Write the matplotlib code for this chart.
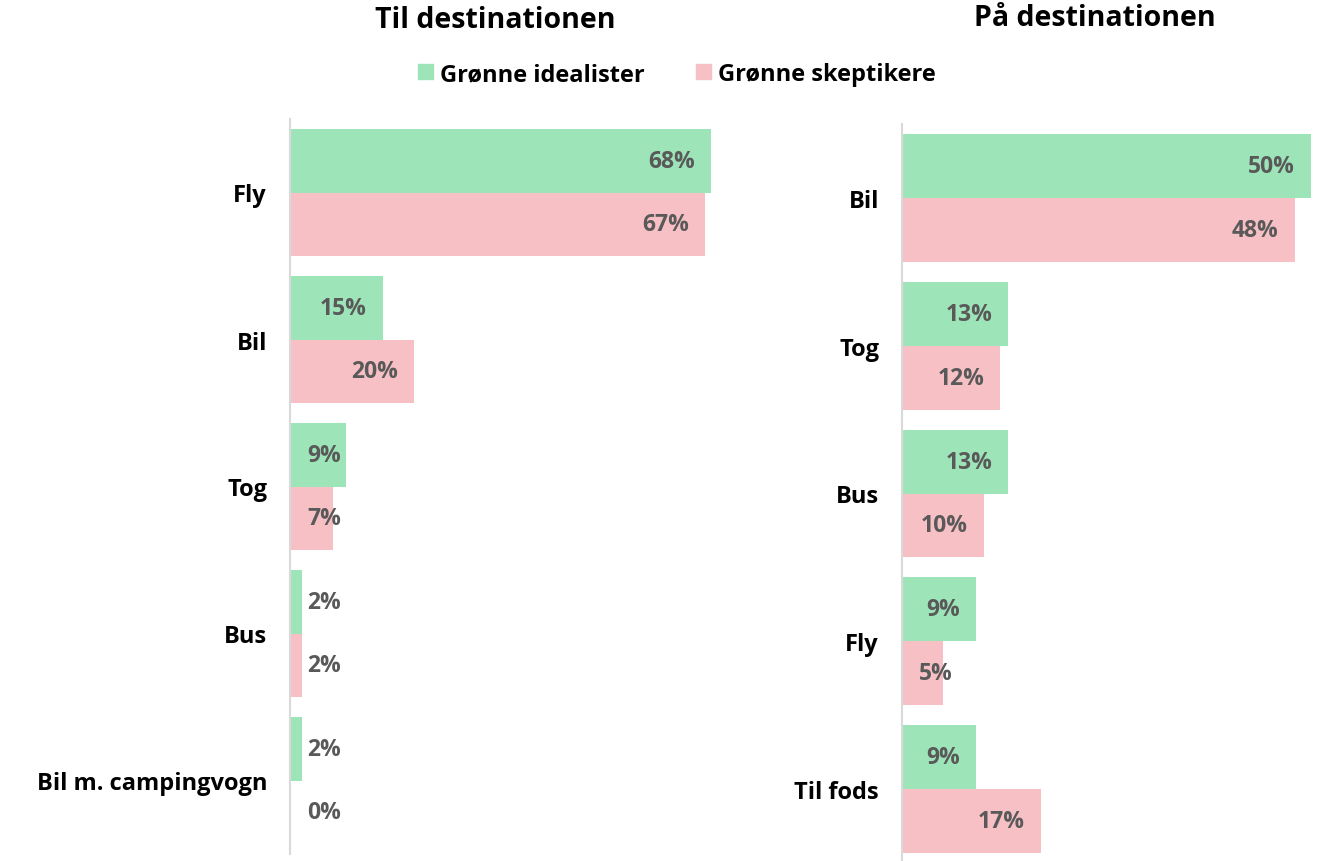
import matplotlib.pyplot as plt

plt.rcParams['font.family'] = ['Open Sans', 'DejaVu Sans']

green = '#9de5b9'
pink = '#f7c0c5'
label_col = '#595959'

til_cats = ['Fly', 'Bil', 'Tog', 'Bus', 'Bil m. campingvogn']
til_ideal = [68, 15, 9, 2, 2]
til_skep = [67, 20, 7, 2, 0]

paa_cats = ['Bil', 'Tog', 'Bus', 'Fly', 'Til fods']
paa_ideal = [50, 13, 13, 9, 9]
paa_skep = [48, 12, 10, 5, 17]

W, H = 1317, 862
fig = plt.figure(figsize=(W / 100, H / 100), dpi=100)


def add_ax(left, top, right, bottom):
    return fig.add_axes([left / W, 1 - bottom / H, (right - left) / W, (bottom - top) / H])


def draw(ax, cats, ideal, skep, xmax):
    h = 0.432
    ys = list(range(len(cats)))
    ax.barh([y - h / 2 for y in ys], ideal, height=h, color=green)
    ax.barh([y + h / 2 for y in ys], skep, height=h, color=pink)
    ax.set_xlim(0, xmax)
    ax.set_ylim(len(cats) - 0.5, -0.5)
    ax.set_yticks(ys)
    ax.set_yticklabels(cats, fontsize=17, fontweight='bold', color='black')
    ax.tick_params(axis='y', length=0, pad=16.5)
    ax.set_xticks([])
    for s in ['top', 'right', 'bottom']:
        ax.spines[s].set_visible(False)
    ax.spines['left'].set_color('#d9d9d9')
    ax.spines['left'].set_linewidth(1.5)
    # label never closer than ~67px to the axis (right edge at >= 51 px)
    fig.canvas.draw()
    px = ax.transData.transform([(0, 0), (1, 0)])
    per = px[1][0] - px[0][0]
    thresh = 67 / per
    for vals, off in [(ideal, -h / 2), (skep, h / 2)]:
        for y, v in zip(ys, vals):
            ax.annotate(f'{v}%', xy=(max(v, thresh), y + off), xytext=(-16, 0),
                        textcoords='offset pixels', ha='right', va='center',
                        fontsize=16.5, fontweight='bold', color=label_col)


ax1 = add_ax(290, 120, 711, 855)
draw(ax1, til_cats, til_ideal, til_skep, 68)
ax2 = add_ax(902, 125, 1311, 864)
draw(ax2, paa_cats, paa_ideal, paa_skep, 50)

fig.text(495 / W, 1 - 20 / H, 'Til destinationen', ha='center', va='center',
         fontsize=20.5, fontweight='bold')
fig.text(1095 / W, 1 - 18 / H, 'På destinationen', ha='center', va='center',
         fontsize=20.5, fontweight='bold')

handles = [plt.Rectangle((0, 0), 1, 1, color=green), plt.Rectangle((0, 0), 1, 1, color=pink)]
fig.legend(handles, ['Grønne idealister', 'Grønne skeptikere'], loc='center',
           bbox_to_anchor=(677 / W, 1 - 75 / H), ncol=2, frameon=False,
           handlelength=0.62, handleheight=0.62, handletextpad=0.3,
           columnspacing=2.2, prop={'weight': 'bold', 'size': 17})

fig.savefig('out.png', dpi=100)
